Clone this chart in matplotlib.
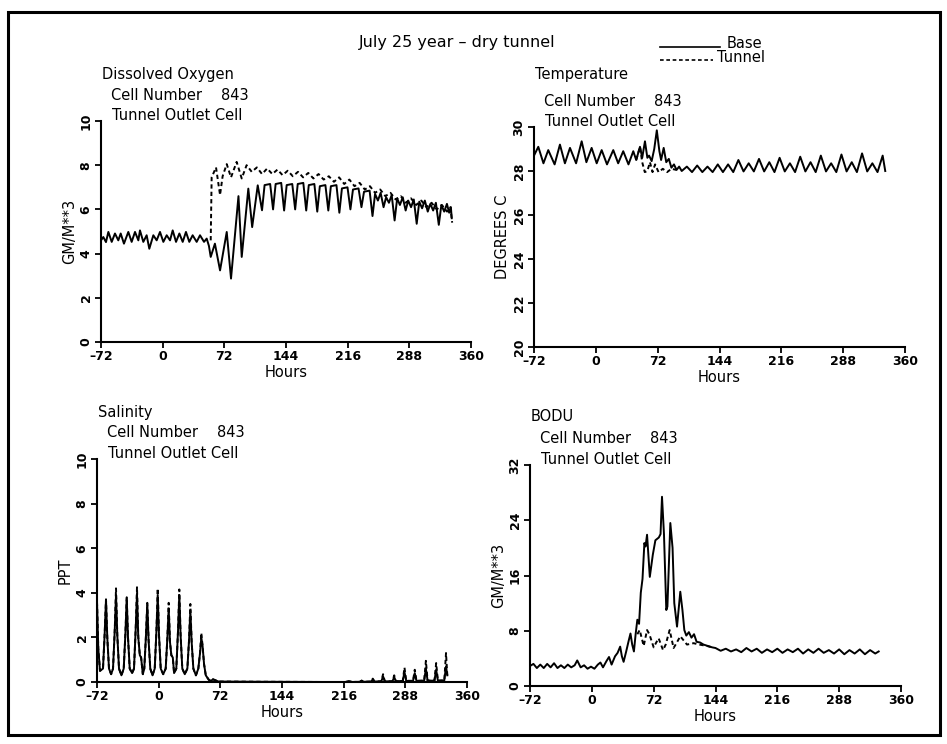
import matplotlib
matplotlib.use("Agg")
import matplotlib.pyplot as plt
import matplotlib.patches
import matplotlib.lines
from matplotlib.transforms import offset_copy

W, H = 947, 744

hour_ticks = [-72, 0, 72, 144, 216, 288, 360]
hour_labels = ["–72", "0", "72", "144", "216", "288", "360"]

# Dissolved oxygen, GM/M**3
do_base_h = [-72, -69.3, -66.2, -63.4, -59.5, -55.7, -51.8, -49.0, -45.2, -40.1, -36.2,
             -32.3, -28.4, -26.5, -22.6, -18.7, -15.6, -10.9, -7.0, -3.1, 0.8, 4.7,
             8.6, 11.7, 15.6, 19.5, 23.4, 27.2, 31.1, 35.0, 39.7, 43.6, 48.3, 51.4,
             54.0, 56.1, 61.0, 67.0, 74.8, 79.8, 88.5, 92.3, 100.0, 104.5, 111.0,
             116.0, 119, 125.5, 128.9, 131.9, 138.4, 141.8, 144.8, 151.3, 154.7,
             157.7, 164.2, 167.6, 170.6, 177.1, 180.5, 183.5, 190, 193.4, 196.4,
             202.9, 206.3, 209.3, 215.8, 219.2, 222.2, 228.7, 232.1, 235.1, 241.6,
             245, 248, 251.3, 254.5, 257.9, 260.9, 264.2, 267.4, 270.8, 273.8, 277,
             280.3, 283.7, 286.7, 290, 293.2, 296.6, 299.6, 302.9, 306.1, 309.5,
             312.5, 315.8, 319, 322.4, 325.4, 328.7, 331.9, 334.5, 336.5, 337.5]
do_base_v = [4.6, 4.75, 4.52, 4.98, 4.53, 4.91, 4.60, 4.91, 4.45, 4.98, 4.53,
             4.98, 4.60, 5.05, 4.53, 4.83, 4.22, 4.83, 4.60, 4.98, 4.53, 4.83,
             4.60, 5.05, 4.53, 4.91, 4.53, 4.98, 4.53, 4.83, 4.53, 4.83, 4.53, 4.68,
             4.35, 3.85, 4.45, 3.24, 4.98, 2.87, 6.6, 3.85, 6.94, 5.2, 7.09,
             5.96, 7.1, 7.15, 6.0, 7.15, 7.2, 5.95, 7.1, 7.15, 6.0,
             7.15, 7.2, 5.95, 7.1, 7.15, 5.9, 7.05, 7.1, 5.95, 7.05,
             7.1, 5.85, 6.95, 7.0, 6.0, 6.9, 6.95, 6.1, 6.8, 6.85,
             5.7, 6.7, 6.4, 6.75, 6.1, 6.55, 6.3, 6.65, 5.5, 6.5, 6.2,
             6.55, 5.95, 6.4, 6.1, 6.45, 5.35, 6.35, 6.05, 6.4, 5.9,
             6.25, 5.95, 6.3, 5.3, 6.2, 5.9, 6.25, 5.85, 6.1, 5.6]
do_tunnel_h = [56.1, 57.2, 62.3, 67, 70, 74.8, 79.8, 86.4, 92.3, 98, 104, 110, 116,
               122, 128, 134, 140, 146, 152, 158, 164, 170, 176, 182, 188, 194, 200,
               206, 212, 218, 224, 230, 236, 242, 248, 254, 260, 266, 272, 278, 284,
               290, 296, 302, 308, 314, 320, 326, 332, 336, 338]
do_tunnel_v = [4.6, 7.45, 7.9, 6.65, 7.5, 8.05, 7.45, 8.15, 7.4, 8.0, 7.7, 7.9, 7.6,
               7.85, 7.6, 7.8, 7.55, 7.75, 7.5, 7.7, 7.45, 7.65, 7.4, 7.6, 7.35, 7.5, 7.25,
               7.45, 7.15, 7.35, 7.05, 7.2, 6.9, 7.05, 6.75, 6.9, 6.6, 6.75, 6.45, 6.6, 6.3,
               6.5, 6.2, 6.4, 6.1, 6.3, 6.0, 6.2, 5.9, 6.1, 5.4]

# Temperature, DEGREES C
temp_base_h = [-72, -67, -61, -55.4, -48, -41.8, -36, -30.1, -23, -16.5, -11, -4.9, 1,
               6.8, 13, 20.3, 26, 31.9, 38, 43.6, 47, 51.4, 54, 57.2, 60, 62, 65, 68,
               71, 74, 76, 79, 82, 85, 88, 91, 94, 97, 100, 106, 112, 118, 124, 130,
               136, 142, 148, 154, 160, 166, 172, 178, 184, 190, 196, 202, 208, 214,
               220, 226, 232, 238, 244, 250, 256, 262, 268, 274, 280, 286, 292, 298,
               304, 310, 316, 322, 328, 334, 337]
temp_base_v = [28.7, 29.1, 28.35, 28.95, 28.3, 29.2, 28.35, 29.05, 28.35, 29.35, 28.4,
               29.05, 28.35, 28.95, 28.3, 28.95, 28.35, 28.9, 28.3, 28.9, 28.5, 29.1,
               28.6, 29.35, 28.6, 28.7, 28.45, 29.0, 29.85, 28.9, 28.5, 29.05, 28.4,
               28.55, 28.15, 28.3, 28.05, 28.2, 28.0, 28.2, 27.95, 28.25, 27.95, 28.2,
               27.95, 28.3, 27.95, 28.3, 27.95, 28.5, 27.98, 28.35, 27.98, 28.55,
               27.98, 28.4, 27.95, 28.6, 27.98, 28.35, 27.95, 28.65, 27.98, 28.4,
               27.95, 28.7, 27.98, 28.35, 27.95, 28.75, 27.98, 28.4, 27.95, 28.8,
               27.98, 28.35, 27.95, 28.7, 28.0]
temp_tunnel_h = [47, 51.4, 54, 57, 60, 63, 66, 69, 73, 78, 83, 88, 94]
temp_tunnel_v = [28.5, 29.1, 28.4, 27.95, 28.0, 28.4, 27.95, 28.3, 27.95, 28.1, 27.95,
                 28.1, 28.05]

# Salinity, PPT
sal_h = [-72, -70.5, -68.5, -65, -63, -61.5, -60, -58, -55.5,
         -53.3, -51.3, -49.8, -48.3, -46.3, -43.5,
         -40.8, -38.8, -37.3, -35.8, -33.8, -31,
         -28.8, -26.8, -25.3, -23.8, -22, -20.5, -18.5,
         -16.8, -14.8, -13.3, -11.8, -9.8, -7.2,
         -4.6, -2.6, -1.1, 0.4, 2.4, 5.3,
         8.2, 10.2, 11.7, 13.2, 14.8, 16.5, 18,
         20.6, 22.6, 24.1, 25.6, 27.6, 30.5,
         33.5, 35.5, 37, 38.5, 40.5, 43.5,
         46.3, 48.3, 49.8, 51.3, 53, 55, 58.5, 61, 63.5, 66, 70, 120, 200,
         218, 223, 226, 235, 237, 239, 248, 250, 252, 260, 262, 264, 273, 275, 277,
         285, 287, 289, 297, 299, 301, 310, 312, 314, 322, 324, 326, 333.5, 335.5, 337]
sal_base_v = [3.6, 1.5, 0.5, 0.6, 2.2, 3.7, 2.0, 0.6, 0.35,
              0.6, 2.3, 3.9, 2.1, 0.6, 0.3,
              0.6, 2.2, 3.75, 2.0, 0.6, 0.4,
              0.6, 2.4, 3.95, 2.0, 1.2, 1.1, 0.35,
              0.6, 2.1, 3.5, 1.9, 0.6, 0.3,
              0.6, 2.3, 3.9, 2.1, 0.6, 0.35,
              0.6, 2.0, 3.3, 1.8, 1.2, 1.1, 0.4,
              0.6, 2.3, 3.9, 2.1, 0.6, 0.35,
              0.6, 1.9, 3.2, 1.8, 0.6, 0.3,
              0.6, 1.3, 2.0, 1.6, 0.8, 0.3, 0.1, 0.05, 0.12, 0.08, 0.02, 0.01, 0.0,
              0.0, 0.04, 0.0, 0.01, 0.06, 0.01, 0.02, 0.12, 0.02, 0.03, 0.25, 0.03,
              0.03, 0.22, 0.03, 0.05, 0.45, 0.05, 0.05, 0.4, 0.05, 0.06, 0.6, 0.06,
              0.06, 0.55, 0.06, 0.07, 0.7, 0.3]
sal_tunnel_v = [3.6, 1.5, 0.5, 0.6, 2.2, 3.7, 2.0, 0.6, 0.35,
                0.6, 2.3, 4.2, 2.1, 0.6, 0.3,
                0.6, 2.2, 3.8, 2.0, 0.6, 0.4,
                0.6, 2.4, 4.25, 2.0, 1.2, 1.1, 0.35,
                0.6, 2.1, 3.55, 1.9, 0.6, 0.3,
                0.6, 2.3, 4.2, 2.1, 0.6, 0.35,
                0.6, 2.0, 3.55, 1.8, 1.2, 1.1, 0.4,
                0.6, 2.3, 4.15, 2.1, 0.6, 0.35,
                0.6, 1.9, 3.5, 1.8, 0.6, 0.3,
                0.6, 1.3, 2.2, 1.6, 0.8, 0.3, 0.1, 0.05, 0.12, 0.08, 0.02, 0.01, 0.0,
                0.0, 0.04, 0.0, 0.01, 0.06, 0.01, 0.02, 0.15, 0.02, 0.03, 0.35, 0.03,
                0.03, 0.3, 0.03, 0.05, 0.65, 0.05, 0.05, 0.55, 0.05, 0.06, 0.95, 0.06,
                0.06, 0.85, 0.06, 0.07, 1.3, 0.3]

# BODU, GM/M**3
bod_base_h = [-72, -68, -64, -60, -56, -52, -48, -44, -40, -36, -32, -28, -24, -20, -17,
              -13, -9, -5, -1, 3, 7, 10, 13, 17, 20, 23, 27, 30, 33, 35, 37, 40, 43, 45,
              47, 49, 51, 53, 55, 57, 59, 61.2, 62.5, 64.3, 67.5, 71, 74, 78, 80, 81.7,
              84, 86.7, 88, 91.4, 94, 96, 99.2, 103, 105.5, 107.7, 110, 113, 116, 119,
              122, 126, 130, 135, 140, 144, 150, 156, 162, 168, 174, 180, 186, 192,
              198, 204, 210, 216, 222, 228, 234, 240, 246, 252, 258, 264, 270, 276,
              282, 288, 294, 300, 306, 312, 318, 324, 330, 334]
bod_base_v = [2.9, 3.2, 2.6, 3.1, 2.6, 3.2, 2.7, 3.3, 2.6, 3.0, 2.6, 3.1, 2.7, 3.0, 3.7,
              2.7, 3.0, 2.5, 2.8, 2.5, 3.1, 3.4, 2.7, 3.6, 4.2, 3.1, 4.3, 4.8, 5.7, 4.3,
              3.5, 5.0, 6.6, 7.6, 6.0, 5.0, 7.5, 9.6, 9.0, 13.5, 15.5, 20.7, 20.2, 21.9,
              15.8, 19.0, 21.1, 21.5, 22.0, 27.4, 22.0, 11.0, 11.5, 23.6, 20.0, 12.0,
              8.6, 13.65, 11.0, 8.1, 7.3, 7.8, 7.0, 7.5, 6.4, 6.3, 6.0, 5.8, 5.6, 5.5,
              5.1, 5.4, 5.0, 5.3, 4.9, 5.5, 5.0, 5.4, 4.8, 5.3, 4.9, 5.4, 4.8, 5.3,
              4.9, 5.4, 4.7, 5.3, 4.8, 5.4, 4.8, 5.2, 4.7, 5.3, 4.6, 5.2, 4.7, 5.3,
              4.6, 5.2, 4.7, 5.0]
bod_tunnel_h = [53, 55.7, 60.4, 64.3, 67, 72, 75, 77.8, 82.9, 86, 90.6, 95.2, 99, 103,
                110.8, 118.5, 125, 134, 140]
bod_tunnel_v = [7.5, 8.1, 5.8, 8.1, 7.5, 5.6, 6.3, 6.9, 5.2, 6.0, 8.1, 5.5, 6.3, 7.2,
                6.0, 6.2, 6.0, 5.8, 5.6]

FONT = "DejaVu Sans"
LW = 1.4
DASH = (0, (2.2, 1.6))


def px_box(left, top, right, bottom):
    return [left / W, 1 - bottom / H, (right - left) / W, (bottom - top) / H]


def setup_panel(ax, ylim, yticks, ylabel, name, name_dy):
    ax.set_xlim(-72, 360)
    ax.set_ylim(*ylim)
    ax.set_xticks(hour_ticks)
    ax.set_xticklabels(hour_labels, fontsize=9, fontweight="bold", family=FONT)
    ax.set_yticks(yticks)
    ax.set_yticklabels([str(t) for t in yticks], fontsize=9, fontweight="bold",
                       family=FONT, rotation=90, va="center")
    for side in ["top", "right"]:
        ax.spines[side].set_visible(False)
    for side in ["left", "bottom"]:
        ax.spines[side].set_linewidth(1.5)
    ax.tick_params(which="major", length=4, width=1.3, pad=2)
    ax.set_xlabel("Hours", fontsize=10.5, family=FONT, labelpad=1)
    ax.set_ylabel(ylabel, fontsize=10.5, family=FONT, labelpad=2)
    ax.patch.set_alpha(0)
    lines = [(name, 1, name_dy), ("Cell Number", 10, 26), ("843", 120, 26),
             ("Tunnel Outlet Cell", 11, 5)]
    for text, dx, dy in lines:
        tr = offset_copy(ax.transAxes, fig=ax.figure, x=dx, y=dy, units="dots")
        ax.text(0, 1, text, transform=tr, fontsize=10.5, family=FONT,
                ha="left", va="center", clip_on=False)


fig = plt.figure(figsize=(W / 100, H / 100), dpi=100)

ax_do = fig.add_axes(px_box(101, 121, 471, 342))
ax_t = fig.add_axes(px_box(534, 127, 905, 347))
ax_s = fig.add_axes(px_box(97, 459, 467, 682))
ax_b = fig.add_axes(px_box(530, 465, 901, 686))

ax_do.plot(do_tunnel_h, do_tunnel_v, color="black", lw=LW, ls=DASH)
ax_do.plot(do_base_h, do_base_v, color="black", lw=LW)
setup_panel(ax_do, (0, 10), [0, 2, 4, 6, 8, 10], "GM/M**3", "Dissolved Oxygen", 47)

ax_t.plot(temp_tunnel_h, temp_tunnel_v, color="black", lw=LW, ls=DASH)
ax_t.plot(temp_base_h, temp_base_v, color="black", lw=LW)
setup_panel(ax_t, (20, 30), [20, 22, 24, 26, 28, 30], "DEGREES C", "Temperature", 52)

ax_s.plot(sal_h, sal_tunnel_v, color="black", lw=LW, ls=DASH)
ax_s.plot(sal_h, sal_base_v, color="black", lw=LW)
setup_panel(ax_s, (0, 10), [0, 2, 4, 6, 8, 10], "PPT", "Salinity", 46)

ax_b.plot(bod_tunnel_h, bod_tunnel_v, color="black", lw=LW, ls=DASH)
ax_b.plot(bod_base_h, bod_base_v, color="black", lw=LW)
setup_panel(ax_b, (0, 32), [0, 8, 16, 24, 32], "GM/M**3", "BODU", 48)

# header and legend
fig.text(457 / W, 1 - 42 / H, "July 25 year – dry tunnel", fontsize=11.5, family=FONT,
         ha="center", va="center")
fig.add_artist(matplotlib.lines.Line2D([660 / W, 720 / W], [1 - 47 / H, 1 - 47 / H],
                                       color="black", lw=1.2))
fig.text(727 / W, 1 - 43 / H, "Base", fontsize=10.5, family=FONT, va="center")
fig.add_artist(matplotlib.lines.Line2D([660 / W, 713 / W], [1 - 60 / H, 1 - 60 / H],
                                       color="black", lw=1.2, ls=DASH))
fig.text(717 / W, 1 - 57 / H, "Tunnel", fontsize=10.5, family=FONT, va="center")

# page border
fig.add_artist(matplotlib.patches.Rectangle((8 / W, 1 - 735 / H), 932 / W, 723 / H,
                                            transform=fig.transFigure, fill=False,
                                            edgecolor="black", lw=2.2))

fig.savefig("out.png", dpi=100)
